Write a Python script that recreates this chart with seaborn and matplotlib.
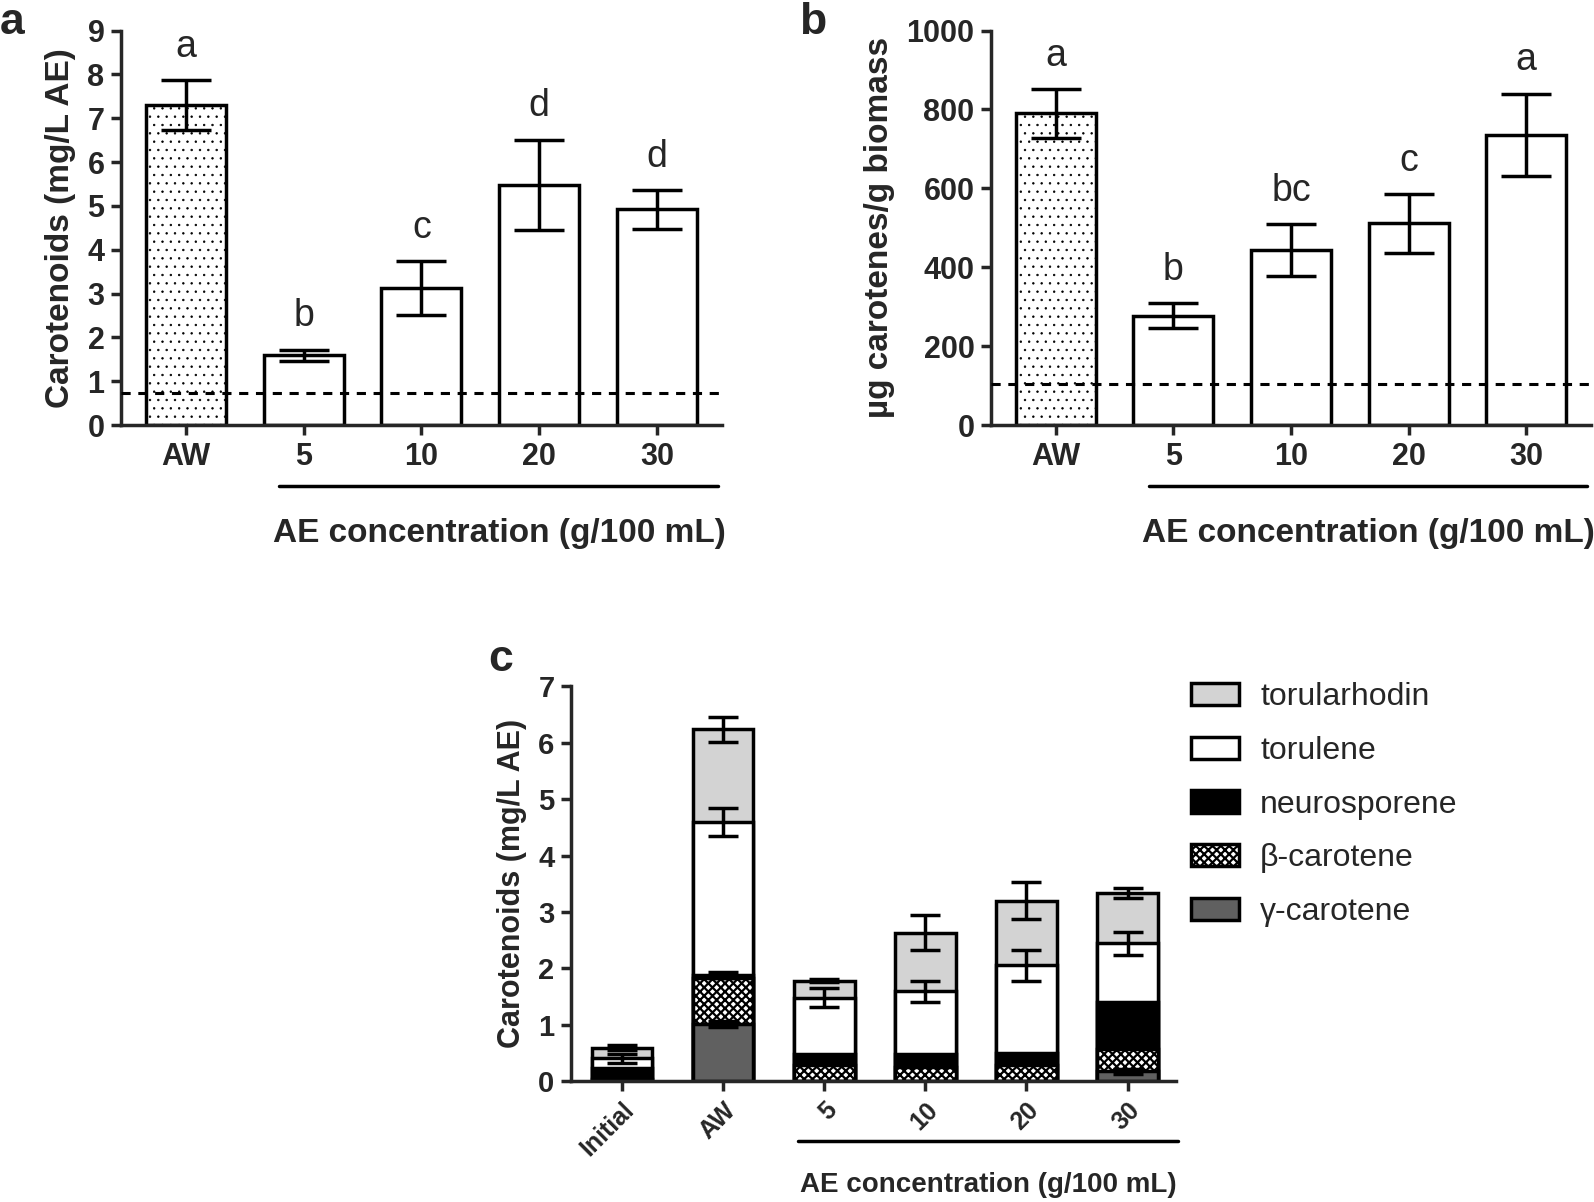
import matplotlib
matplotlib.use("Agg")
import matplotlib.pyplot as plt
import matplotlib.patches as mpatches
import numpy as np
import pandas as pd
import seaborn as sns

# panel a: carotenoids per litre
a_groups = ["AW", "5", "10", "20", "30"]
a_mean = [7.30, 1.59, 3.12, 5.48, 4.92]
a_err = [0.57, 0.13, 0.62, 1.03, 0.44]
a_letters = ["a", "b", "c", "d", "d"]
a_ref = 0.72

# panel b: carotenes per biomass
b_groups = ["AW", "5", "10", "20", "30"]
b_mean = [790, 277, 443, 511, 735]
b_err = [62, 32, 66, 75, 105]
b_letters = ["a", "b", "bc", "c", "a"]
b_ref = 105

# panel c: stacked carotenoid profile
c_groups = ["Initial", "AW", "5", "10", "20", "30"]
gamma = [0.00, 1.01, 0.00, 0.00, 0.00, 0.17]
beta = [0.03, 0.81, 0.29, 0.25, 0.29, 0.39]
neuro = [0.20, 0.06, 0.18, 0.22, 0.21, 0.84]
torulene = [0.17, 2.72, 1.01, 1.12, 1.55, 1.04]
torularhodin = [0.19, 1.64, 0.30, 1.04, 1.15, 0.90]
gamma_err = [0.00, 0.05, 0.00, 0.00, 0.00, 0.04]
beta_err = [0, 0, 0, 0, 0, 0]
neuro_err = [0.00, 0.05, 0.00, 0.00, 0.00, 0.00]
torulene_err = [0.08, 0.25, 0.17, 0.19, 0.27, 0.20]
torularhodin_err = [0.04, 0.22, 0.03, 0.31, 0.33, 0.09]

sns.set_style("ticks")
plt.rcParams["font.family"] = ["Liberation Sans", "DejaVu Sans"]
plt.rcParams["hatch.linewidth"] = 1.6
plt.rcParams["axes.linewidth"] = 2.5

LW = 2.5
fig = plt.figure(figsize=(15.94, 12.02), dpi=100)


def style_axis(ax, fs=22):
    sns.despine(ax=ax)
    ax.tick_params(axis="both", width=LW, length=7, labelsize=fs, pad=5)
    for lab in ax.get_xticklabels() + ax.get_yticklabels():
        lab.set_fontweight("bold")


def simple_panel(ax, groups, mean, err, letters, ref, ylim, yticks, ylabel):
    df = pd.DataFrame({"group": groups, "value": mean})
    sns.barplot(data=df, x="group", y="value", ax=ax, color="white",
                edgecolor="black", linewidth=LW, width=0.68, errorbar=None)
    aw = ax.patches[0]
    aw.set_hatch("..")
    if hasattr(aw, "set_hatch_linewidth"):
        aw.set_hatch_linewidth(0.5)
    x = np.arange(len(groups))
    ax.errorbar(x, mean, yerr=err, fmt="none", ecolor="black",
                elinewidth=LW, capsize=18, capthick=LW, zorder=5)
    for xi, m, e, t in zip(x, mean, err, letters):
        ax.annotate(t, (xi, m + e), xytext=(0, 11), textcoords="offset points",
                    ha="center", va="bottom", fontsize=27)
    ax.axhline(ref, color="black", ls=(0, (3, 2.5)), lw=2.2, zorder=4)
    ax.set_ylim(*ylim)
    ax.set_yticks(yticks)
    ax.set_xlim(-0.55, 4.55)
    ax.set_xlabel("")
    ax.set_ylabel(ylabel, fontsize=24, fontweight="bold", labelpad=8)
    style_axis(ax)
    tr = ax.get_xaxis_transform()
    ax.plot([0.79, 4.52], [-0.155, -0.155], color="black", lw=2.5,
            transform=tr, clip_on=False)
    ax.text(2.66, -0.275, "AE concentration (g/100 mL)", transform=tr,
            ha="center", va="center", fontsize=24, fontweight="bold")


ax_a = fig.add_axes([0.076, 0.6464, 0.3768, 0.3282])
simple_panel(ax_a, a_groups, a_mean, a_err, a_letters, a_ref,
             (0, 9), range(0, 10), "Carotenoids (mg/L AE)")

ax_b = fig.add_axes([0.6218, 0.6464, 0.3762, 0.3282])
simple_panel(ax_b, b_groups, b_mean, b_err, b_letters, b_ref,
             (0, 1000), range(0, 1001, 200), "\u00b5g carotenes/g biomass")

# panel c: stacked bars drawn as cumulative totals, tallest first
ax_c = fig.add_axes([0.3584, 0.1007, 0.3795, 0.3282])
layers = [
    ("\u03b3-carotene", gamma, gamma_err, "#606060", None),
    ("\u03b2-carotene", beta, beta_err, "white", "xxxx"),
    ("neurosporene", neuro, neuro_err, "black", None),
    ("torulene", torulene, torulene_err, "white", None),
    ("torularhodin", torularhodin, torularhodin_err, "#d3d3d3", None),
]
cum = np.cumsum([np.array(l[1]) for l in layers], axis=0)
for i in range(len(layers) - 1, -1, -1):
    name, vals, errs, fc, hatch = layers[i]
    n0 = len(ax_c.patches)
    dfc = pd.DataFrame({"group": c_groups, "value": cum[i]})
    sns.barplot(data=dfc, x="group", y="value", ax=ax_c, color=fc,
                edgecolor="black", linewidth=LW, width=0.6, errorbar=None,
                saturation=1)
    for p in ax_c.patches[n0:]:
        p.set_facecolor(fc)
        if hatch:
            p.set_hatch(hatch)
xc = np.arange(len(c_groups))
for i, (name, vals, errs, fc, hatch) in enumerate(layers):
    e = np.array(errs)
    m = e > 0
    ax_c.errorbar(xc[m], cum[i][m], yerr=e[m], fmt="none", ecolor="black",
                  elinewidth=LW, capsize=11, capthick=LW, zorder=5)
ax_c.set_ylim(0, 7)
ax_c.set_yticks(range(0, 8))
ax_c.set_xlim(-0.5, 5.48)
ax_c.set_xlabel("")
ax_c.set_ylabel("Carotenoids (mg/L AE)", fontsize=22, fontweight="bold",
                labelpad=8)
style_axis(ax_c, fs=21)
plt.setp(ax_c.get_xticklabels(), rotation=45, ha="right",
         rotation_mode="anchor", fontsize=18)
tr = ax_c.get_xaxis_transform()
ax_c.plot([1.74, 5.5], [-0.152, -0.152], color="black", lw=2.5,
          transform=tr, clip_on=False)
ax_c.text(3.62, -0.263, "AE concentration (g/100 mL)", transform=tr,
          ha="center", va="center", fontsize=20, fontweight="bold")

handles = []
for name, vals, errs, fc, hatch in layers[::-1]:
    handles.append(mpatches.Patch(facecolor=fc, edgecolor="black",
                                  linewidth=LW, hatch=hatch, label=name))
fig.legend(handles=handles, loc="upper left",
           bbox_to_anchor=(1172 / 1568, 1 - 671 / 1182), frameon=False,
           fontsize=23, handlelength=1.5, handleheight=0.7,
           labelspacing=0.74, handletextpad=0.65, borderpad=0,
           borderaxespad=0)

fig.text(0.0, 0.998, "a", fontsize=32, fontweight="bold", va="top")
fig.text(0.501, 0.998, "b", fontsize=32, fontweight="bold", va="top")
fig.text(0.306, 0.468, "c", fontsize=32, fontweight="bold", va="top")

fig.savefig("out.png", dpi=100)
